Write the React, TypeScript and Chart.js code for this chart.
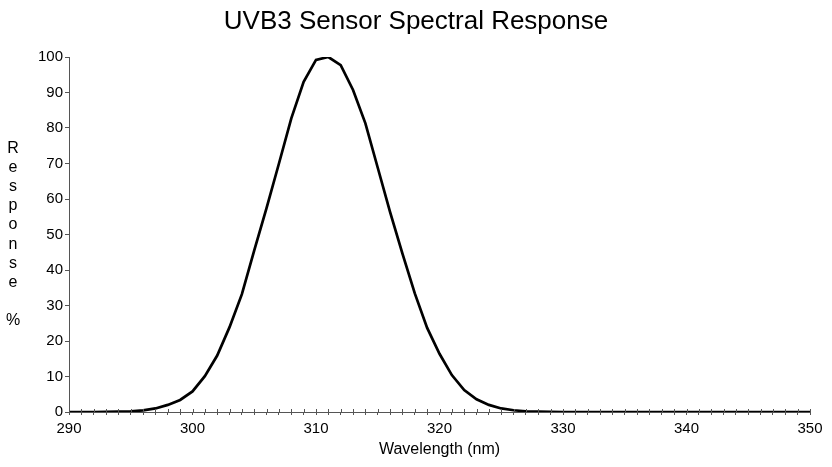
import React, { useEffect, useRef } from "react";
import { Chart, registerables } from "chart.js";

Chart.register(...registerables);

const wavelengths = [
  290, 291, 292, 293, 294, 295, 296, 297, 298, 299,
  300, 301, 302, 303, 304, 305, 306, 307, 308, 309,
  310, 311, 312, 313, 314, 315, 316, 317, 318, 319,
  320, 321, 322, 323, 324, 325, 326, 327, 328, 329,
  330, 331, 332, 333, 334, 335, 336, 337, 338, 339,
  340, 341, 342, 343, 344, 345, 346, 347, 348, 349, 350,
];

const response = [
  0, 0, 0, 0.05, 0.1, 0.2, 0.45, 1.0, 2.0, 3.4,
  5.8, 10.1, 15.9, 23.9, 33.2, 45.5, 57.5, 70.0, 82.7, 93.0,
  99.2, 100, 97.7, 90.7, 81.3, 68.8, 56.3, 44.6, 33.4, 23.7,
  16.4, 10.4, 6.2, 3.6, 2.0, 1.0, 0.5, 0.2, 0.1, 0.05,
  0, 0, 0, 0, 0, 0, 0, 0, 0, 0,
  0, 0, 0, 0, 0, 0, 0, 0, 0, 0, 0,
];

const titleText = "UVB3 Sensor Spectral Response";
const xTitleText = "Wavelength (nm)";
const yTitleLines = ["R", "e", "s", "p", "o", "n", "s", "e", "", "%"];

const FONT = "'Liberation Sans', Arial, sans-serif";

const textPlugin = {
  id: "customText",
  afterDraw(chart: any) {
    const ctx = chart.ctx;
    const area = chart.chartArea;
    const xs = chart.scales.x;
    ctx.save();
    // upward half of crossing ticks on x axis
    ctx.strokeStyle = "#555555";
    ctx.lineWidth = 1;
    xs.ticks.forEach((t: any) => {
      const px = Math.round(xs.getPixelForValue(t.value)) + 0.5;
      ctx.beginPath();
      ctx.moveTo(px, area.bottom - 3);
      ctx.lineTo(px, area.bottom);
      ctx.stroke();
    });
    ctx.fillStyle = "#000000";
    // title
    ctx.font = `26px ${FONT}`;
    ctx.textAlign = "center";
    ctx.textBaseline = "alphabetic";
    ctx.fillText(titleText, chart.width / 2, 29);
    // x title
    ctx.font = `16px ${FONT}`;
    ctx.textBaseline = "middle";
    ctx.fillText(xTitleText, (area.left + area.right) / 2, area.bottom + 38);
    // y title stacked letters
    ctx.font = `16px ${FONT}`;
    const lh = 19.2;
    const cy = (area.top + area.bottom) / 2;
    const start = cy - ((yTitleLines.length - 1) * lh) / 2;
    yTitleLines.forEach((s, i) => {
      if (s) ctx.fillText(s, 13, start + i * lh);
    });
    ctx.restore();
  },
};

export default function App() {
  const ref = useRef<HTMLCanvasElement | null>(null);
  useEffect(() => {
    document.body.style.margin = "0";
    if (!ref.current) return;
    const chart = new Chart(ref.current, {
      type: "line",
      data: {
        datasets: [
          {
            data: wavelengths.map((w, i) => ({ x: w, y: response[i] })),
            borderColor: "#000000",
            borderWidth: 2.7,
            pointRadius: 0,
            tension: 0,
            fill: false,
          },
        ],
      },
      options: {
        animation: false,
        responsive: false,
        layout: { padding: { top: 57, right: 22, left: 0, bottom: 0 } },
        plugins: {
          legend: { display: false },
          title: { display: false },
          tooltip: { enabled: false },
        },
        scales: {
          x: {
            type: "linear",
            min: 290,
            max: 350,
            afterFit: (s: any) => {
              s.height = 55;
            },
            ticks: {
              stepSize: 1,
              autoSkip: false,
              maxRotation: 0,
              padding: 5,
              color: "#000000",
              font: { family: FONT, size: 15 },
              callback: (v: any) => (Number(v) % 10 === 0 ? String(v) : ""),
            },
            grid: {
              drawOnChartArea: false,
              tickLength: 3,
              color: "#555555",
            },
            border: { color: "#555555", width: 1 },
          },
          y: {
            min: 0,
            max: 100,
            afterFit: (s: any) => {
              s.width = 69;
            },
            ticks: {
              stepSize: 10,
              padding: 2,
              color: "#000000",
              font: { family: FONT, size: 15 },
            },
            grid: {
              drawOnChartArea: false,
              tickLength: 4,
              color: "#555555",
            },
            border: { color: "#555555", width: 1 },
          },
        },
      },
      plugins: [textPlugin],
    });
    return () => chart.destroy();
  }, []);
  return (
    <div style={{ width: 832, height: 467 }}>
      <canvas ref={ref} width={832} height={467} />
    </div>
  );
}
